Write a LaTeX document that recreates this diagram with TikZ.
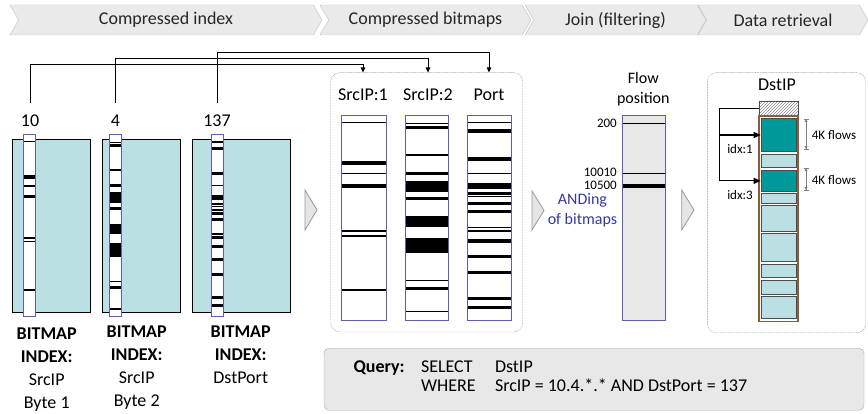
\documentclass[tikz,border=0pt]{standalone}
\usepackage{fontspec}
\setmainfont{Carlito}
\usetikzlibrary{positioning, arrows.meta, shapes.symbols, patterns, calc}

\definecolor{tealpale}{RGB}{187,224,227}
\definecolor{tealdark}{RGB}{0,153,153}
\definecolor{barblue}{RGB}{95,95,175}
\definecolor{andblue}{RGB}{55,55,165}
\definecolor{brownbar}{RGB}{140,92,52}
\definecolor{chevfill}{RGB}{234,234,234}
\definecolor{chevline}{RGB}{190,190,190}

\begin{document}
\begin{tikzpicture}[
    x=1pt, y=-1pt,
    font=\fontsize{18}{23}\selectfont,
    % Styles
    stage/.style={signal, signal from=west, signal to=east, signal pointer angle=120, draw=chevline, fill=chevfill, text=black!85, minimum height=30pt, inner sep=0pt},
    idxbox/.style={draw, line width=0.9pt, fill=tealpale},
    bitcol/.style={draw=barblue, line width=1pt, fill=white},
    dotbox/.style={draw=black!45, dash pattern=on 0.8pt off 0.8pt, rounded corners=9pt},
    playtri/.style={draw=black!40, fill=black!10, line width=0.8pt},
    feed/.style={-{Triangle[length=5pt,width=4.5pt]}, line width=0.8pt, shorten <=9pt},
    idxarrow/.style={-{Triangle[length=7pt,width=6pt]}, line width=1.1pt},
    block/.style={draw=black!70, line width=0.6pt, minimum width=35pt, inner sep=0pt},
    dimline/.style={{Bar[width=5pt]Triangle[length=2.5pt,width=3pt]}-{Triangle[length=2.5pt,width=3pt]Bar[width=5pt]}, draw=black!50, line width=0.6pt},
    small/.style={font=\fontsize{13}{15}\selectfont, inner sep=1pt},
    caption/.style={align=center, anchor=north, inner sep=0pt},
    qtext/.style={anchor=base west, font=\fontsize{18}{20}\selectfont}
    ]
    \useasboundingbox (0,0) rectangle (868,414);

    % --- header stages ---
    \node[stage, minimum width=312pt] (st1) at (166,20) {Compressed index};
    \node[stage, minimum width=211pt] (st2) at (425.5,20) {Compressed bitmaps};
    \node[stage, minimum width=181pt] (st3) at (615.5,20) {Join (filtering)};
    \node[stage, minimum width=170pt] (st4) at (783,20) {Data retrieval};

    % --- compressed index ---
    \node[idxbox, minimum width=78pt, minimum height=173pt] (ix1) at (51,225.5) {};
    \node[idxbox, minimum width=78.7pt, minimum height=173pt] (ix2) at (141.3,225.5) {};
    \node[idxbox, minimum width=98.7pt, minimum height=173pt] (ix3) at (241.3,225.5) {};

    \node[bitcol, minimum width=12pt, minimum height=181pt] (bar1) at (29,225.5) {};
    \node[bitcol, minimum width=12.4pt, minimum height=181pt] (bar2) at (115.5,225.5) {};
    \node[bitcol, minimum width=11.6pt, minimum height=181pt] (bar3) at (217.5,225.5) {};

    \foreach \y/\h in {141.7/1.5, 176.7/4, 186/1.5, 197/3, 238/1.5, 241.7/1.5, 290/1.5}
        \fill (23.5,\y-\h/2) rectangle (34.5,\y+\h/2);
    \foreach \y/\h in {142.7/1.5, 145.3/2.5, 170/1.5, 185.7/3, 197.2/11, 208.3/2.5, 229/10, 249.8/13.5, 281.7/1.5, 287.7/3, 309/1.5}
        \fill (109.8,\y-\h/2) rectangle (121.2,\y+\h/2);
    \foreach \y/\h in {142/1.5, 149/3, 173.3/3, 185.7/1.5, 197.5/5, 204/1.5, 206.7/1.5, 210/1.5, 213.3/2.5, 220/3, 234/1.5, 237.3/2.5, 246.7/3, 260/3, 274.3/3, 297.7/3, 305.7/3}
        \fill (212.2,\y-\h/2) rectangle (222.8,\y+\h/2);

    \node (num1) at (30,121) {10};
    \node (num2) at (115.5,121) {4};
    \node (num3) at (217,121) {137};

    \node[caption] (cap1) at (46.7,327.5) {\textbf{BITMAP}\\\textbf{INDEX:}\\SrcIP\\Byte 1};
    \node[caption] (cap2) at (136.7,325.9) {\textbf{BITMAP}\\\textbf{INDEX:}\\SrcIP\\Byte 2};
    \node[caption] (cap3) at (240.7,325.9) {\textbf{BITMAP}\\\textbf{INDEX:}\\DstPort};

    \draw[playtri] (305,190) -- (317,210) -- (305,230) -- cycle;

    % --- compressed bitmaps ---
    \node[dotbox, minimum width=192pt, minimum height=259.3pt] (bmbox) at (426.7,202.3) {};
    \node (src1) at (363,94.3) {SrcIP:1};
    \node (src2) at (428,94.3) {SrcIP:2};
    \node (port) at (489,94.3) {Port};

    \node[bitcol, minimum width=44.3pt, minimum height=204pt] (col1) at (363.85,218) {};
    \node[bitcol, minimum width=43.3pt, minimum height=204pt] (col2) at (426.65,218) {};
    \node[bitcol, minimum width=43.7pt, minimum height=204pt] (col3) at (489.15,218) {};

    \foreach \y/\h in {122.7/1.5, 162.7/4, 173.3/1.5, 186/3.5, 231/1.5, 236/1.5, 290/1.5}
        \fill (342.2,\y-\h/2) rectangle (385.5,\y+\h/2);
    \foreach \y/\h in {123.3/1.5, 127.7/3.5, 155/1.5, 173.3/3.5, 186.2/11, 198.3/3, 221.7/11.3, 245.5/14.4, 280.7/1.5, 288.3/3, 311.7/1.5}
        \fill (405.5,\y-\h/2) rectangle (447.8,\y+\h/2);
    \foreach \y/\h in {122.7/1.5, 131/3.5, 159/3.5, 173.3/1.5, 186.3/6, 194/3, 196.7/1.5, 203.3/3.5, 211.7/3.5, 227.3/1.5, 231/1.5, 241/3.5, 256.7/3.5, 272.3/3.5, 298.7/3.5, 307.7/3.5}
        \fill (467.8,\y-\h/2) rectangle (510.5,\y+\h/2);

    % index values feed the bitmaps
    \draw[feed] (num1.north) |- ($(src1.center)+(0,-30)$) -- (src1 |- bmbox.north);
    \draw[feed] (num2.north) |- ($(src2.center)+(0,-36)$) -- (src2 |- bmbox.north);
    \draw[feed] (num3.north) |- ($(port.center)+(0,-42.3)$) -- (port |- bmbox.north);

    \draw[playtri] (532,191) -- (544,210.5) -- (532,230) -- cycle;

    % --- join ---
    \node[align=center, font=\fontsize{16}{20}\selectfont] (flow) at (643.3,89.3) {Flow\\position};
    \node[bitcol, fill=black!9, minimum width=43.4pt, minimum height=204pt] (joincol) at (644,218) {};
    \foreach \y/\h in {123.3/1.5, 173.3/1.5, 186/3.5}
        \fill (622.8,\y-\h/2) rectangle (665.2,\y+\h/2);
    \node[small, anchor=east] (p200) at (618,123.3) {200};
    \node[small, anchor=east] (p10010) at (618,172.7) {10010};
    \node[small, anchor=east] (p10500) at (618,185.7) {10500};
    \node[align=center, text=andblue, font=\fontsize{16}{19.3}\selectfont] (anding) at (582.5,210.3) {ANDing\\of bitmaps};

    \draw[playtri] (681.7,190) -- (694,210) -- (681.7,230) -- cycle;

    % --- data retrieval ---
    \node[dotbox, minimum width=158.4pt, minimum height=260pt] (drbox) at (786.5,202.7) {};
    \node (dstip) at (777,85) {DstIP};
    \node[draw=black!70, line width=0.7pt, pattern=north east lines, pattern color=black!45, minimum width=39.3pt, minimum height=14.3pt, inner sep=0pt] (hdr) at (778.6,108.8) {};
    \node[draw=brownbar, line width=1.6pt, fill=white, minimum width=39pt, minimum height=205.7pt, inner sep=0pt] (dcol) at (778.5,218.8) {};
    \foreach \i/\t/\b/\c in {1/118.3/151.7/tealdark, 2/154/167.7/tealpale, 3/170/191.7/tealdark, 4/193.3/203.3/tealpale, 5/205/231.7/tealpale, 6/233.3/261.7/tealpale, 7/264/277.7/tealpale, 8/280/294/tealpale, 9/296/318.3/tealpale}
        \node[block, fill=\c, minimum height={\b-\t}] (blk\i) at (778.5,{(\t+\b)/2}) {};

    \draw[idxarrow] (hdr.west) -- ++(-39,0) |- (blk1.west);
    \draw[idxarrow] (hdr.west) -- ++(-39,0) |- (blk3.west);
    \node[small] (idx1) at (740,149.3) {idx:1};
    \node[small] (idx3) at (740,195) {idx:3};

    \draw[dimline] ([xshift=9.7pt,yshift=-0.7pt]blk1.north east) -- ([xshift=9.7pt,yshift=2.7pt]blk1.south east);
    \draw[dimline] ([xshift=9.7pt,yshift=1.7pt]blk3.north east) -- ([xshift=9.7pt,yshift=1.7pt]blk3.south east);
    \node[small] (flows1) at (834,135) {4K flows};
    \node[small] (flows2) at (834,180) {4K flows};

    % --- query ---
    \node[draw=black!35, fill=black!9, rounded corners=5pt, minimum width=540pt, minimum height=62pt] (qbox) at (594,379.2) {};
    \node[qtext, font=\fontsize{18}{20}\selectfont\bfseries] (qlbl) at (350,372) {Query:};
    \node[qtext] (qsel) at (417.5,372) {SELECT};
    \node[qtext] (qdst) at (491.5,372) {DstIP};
    \node[qtext] (qwhr) at (417.5,391) {WHERE};
    \node[qtext] (qcond) at (491.5,391) {SrcIP = 10.4.*.* AND DstPort = 137};
\end{tikzpicture}
\end{document}
